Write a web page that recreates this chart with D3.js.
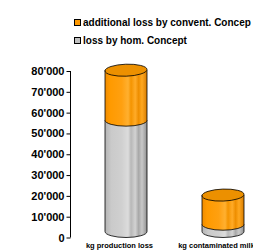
<!DOCTYPE html>
<html>
<head>
<meta charset="utf-8">
<script src="https://cdn.jsdelivr.net/npm/d3@7"></script>
<style>
  body { margin: 0; background: #fff; }
  svg { display: block; font-family: Arial, "Liberation Sans", sans-serif; }
</style>
</head>
<body>
<div class="chart"></div>
<script>
// chart data
var categories = ['kg production loss', 'kg contaminated milk'];
var homLoss = [53500, 3500];          // loss by hom. Concept
var additionalLoss = [24000, 14000];  // additional loss by convent. Concept
var seriesNames = ['additional loss by convent. Concep', 'loss by hom. Concept'];
var tickValues = [0, 10000, 20000, 30000, 40000, 50000, 60000, 70000, 80000];

var width = 253, height = 251;

var svg = d3.select('.chart').append('svg')
  .attr('width', width)
  .attr('height', height);

// gradients for the cylinder bodies
var defs = svg.append('defs');
function cylGradient(id, stops) {
  var g = defs.append('linearGradient').attr('id', id)
    .attr('x1', '0%').attr('x2', '100%').attr('y1', '0%').attr('y2', '0%');
  stops.forEach(s => g.append('stop').attr('offset', s[0]).attr('stop-color', s[1]));
}
cylGradient('orangeBody', [
  ['0%', '#f08c00'], ['12%', '#ff9a00'], ['40%', '#ffa010'], ['55%', '#ffb030'],
  ['62%', '#f49400'], ['72%', '#ffab28'], ['80%', '#ee8e00'], ['88%', '#ffa820'], ['100%', '#d87c00']
]);
cylGradient('greyBody', [
  ['0%', '#b4b4b4'], ['15%', '#cacaca'], ['40%', '#d0d0d0'], ['55%', '#dcdcdc'],
  ['62%', '#b8b8b8'], ['72%', '#d2d2d2'], ['80%', '#a8a8a8'], ['88%', '#c8c8c8'], ['100%', '#909090']
]);

// scales
var y = d3.scaleLinear().domain([0, 80000]).range([237.5, 71]);
var x = d3.scaleBand().domain(categories).range([71, 265]);

// y axis
svg.append('g')
  .attr('transform', 'translate(70.5,0)')
  .call(d3.axisLeft(y)
    .tickValues(tickValues)
    .tickSize(4)
    .tickPadding(2)
    .tickFormat(d => d3.format(',')(d).replace(/,/g, "'")))
  .call(g => g.select('.domain').attr('d', 'M0,' + y(80000) + 'V' + y(0)).attr('stroke', '#000'))
  .call(g => g.selectAll('.tick line').attr('stroke', '#000'))
  .call(g => g.selectAll('.tick text')
    .attr('font-size', 11).attr('font-weight', 'bold').attr('fill', '#000')
    .attr('font-family', 'Arial, "Liberation Sans", sans-serif'));

// cylinders
var barWidth = 42;
var ry = 6;
var depthShift = 6.5;

function cylinderBody(cx, yTop, yBottom) {
  var rx = barWidth / 2;
  var t = yTop - ry, b = yBottom - ry;
  return 'M' + (cx - rx) + ',' + t +
    'L' + (cx - rx) + ',' + b +
    'A' + rx + ',' + ry + ' 0 0 0 ' + (cx + rx) + ',' + b +
    'L' + (cx + rx) + ',' + t + 'Z';
}

var stacks = categories.map((c, i) => ({
  cat: c,
  segments: [
    { y0: 0, y1: homLoss[i], fill: 'url(#greyBody)', top: '#c8c8c8' },
    { y0: homLoss[i], y1: homLoss[i] + additionalLoss[i], fill: 'url(#orangeBody)', top: '#ec9000' }
  ]
}));

var bars = svg.selectAll('.bar')
  .data(stacks)
  .enter()
  .append('g')
  .attr('class', 'bar');

bars.each(function(d) {
  var g = d3.select(this);
  var cx = x(d.cat) + x.bandwidth() / 2 + depthShift;
  d.segments.forEach(function(s, j) {
    g.append('path')
      .attr('d', cylinderBody(cx, y(s.y1), y(s.y0)))
      .attr('fill', s.fill)
      .attr('stroke', '#000')
      .attr('stroke-width', 0.8);
    if (j === d.segments.length - 1) {
      g.append('ellipse')
        .attr('cx', cx)
        .attr('cy', y(s.y1) - ry)
        .attr('rx', barWidth / 2)
        .attr('ry', ry)
        .attr('transform', 'rotate(-2,' + cx + ',' + (y(s.y1) - ry) + ')')
        .attr('fill', s.top)
        .attr('stroke', '#000')
        .attr('stroke-width', 0.8);
    }
  });
});

// category labels
svg.selectAll('.cat-label')
  .data(categories)
  .enter()
  .append('text')
  .attr('class', 'cat-label')
  .attr('x', d => x(d) + x.bandwidth() / 2)
  .attr('y', 248)
  .attr('text-anchor', 'middle')
  .attr('font-size', 7.5)
  .attr('font-weight', 'bold')
  .text(d => d);

// legend
var legendColors = ['#ff9900', '#c0c0c0'];
var legend = svg.selectAll('.legend')
  .data(seriesNames)
  .enter()
  .append('g')
  .attr('class', 'legend')
  .attr('transform', (d, i) => 'translate(74,' + (19 + i * 18) + ')');

legend.append('rect')
  .attr('x', 0.5).attr('y', 0.5)
  .attr('width', 6).attr('height', 6)
  .attr('fill', (d, i) => legendColors[i])
  .attr('stroke', '#000')
  .attr('stroke-width', 1);

legend.append('text')
  .attr('x', 9)
  .attr('y', 6.5)
  .attr('font-size', 10)
  .attr('font-weight', 'bold')
  .text(d => d);
</script>
</body>
</html>
